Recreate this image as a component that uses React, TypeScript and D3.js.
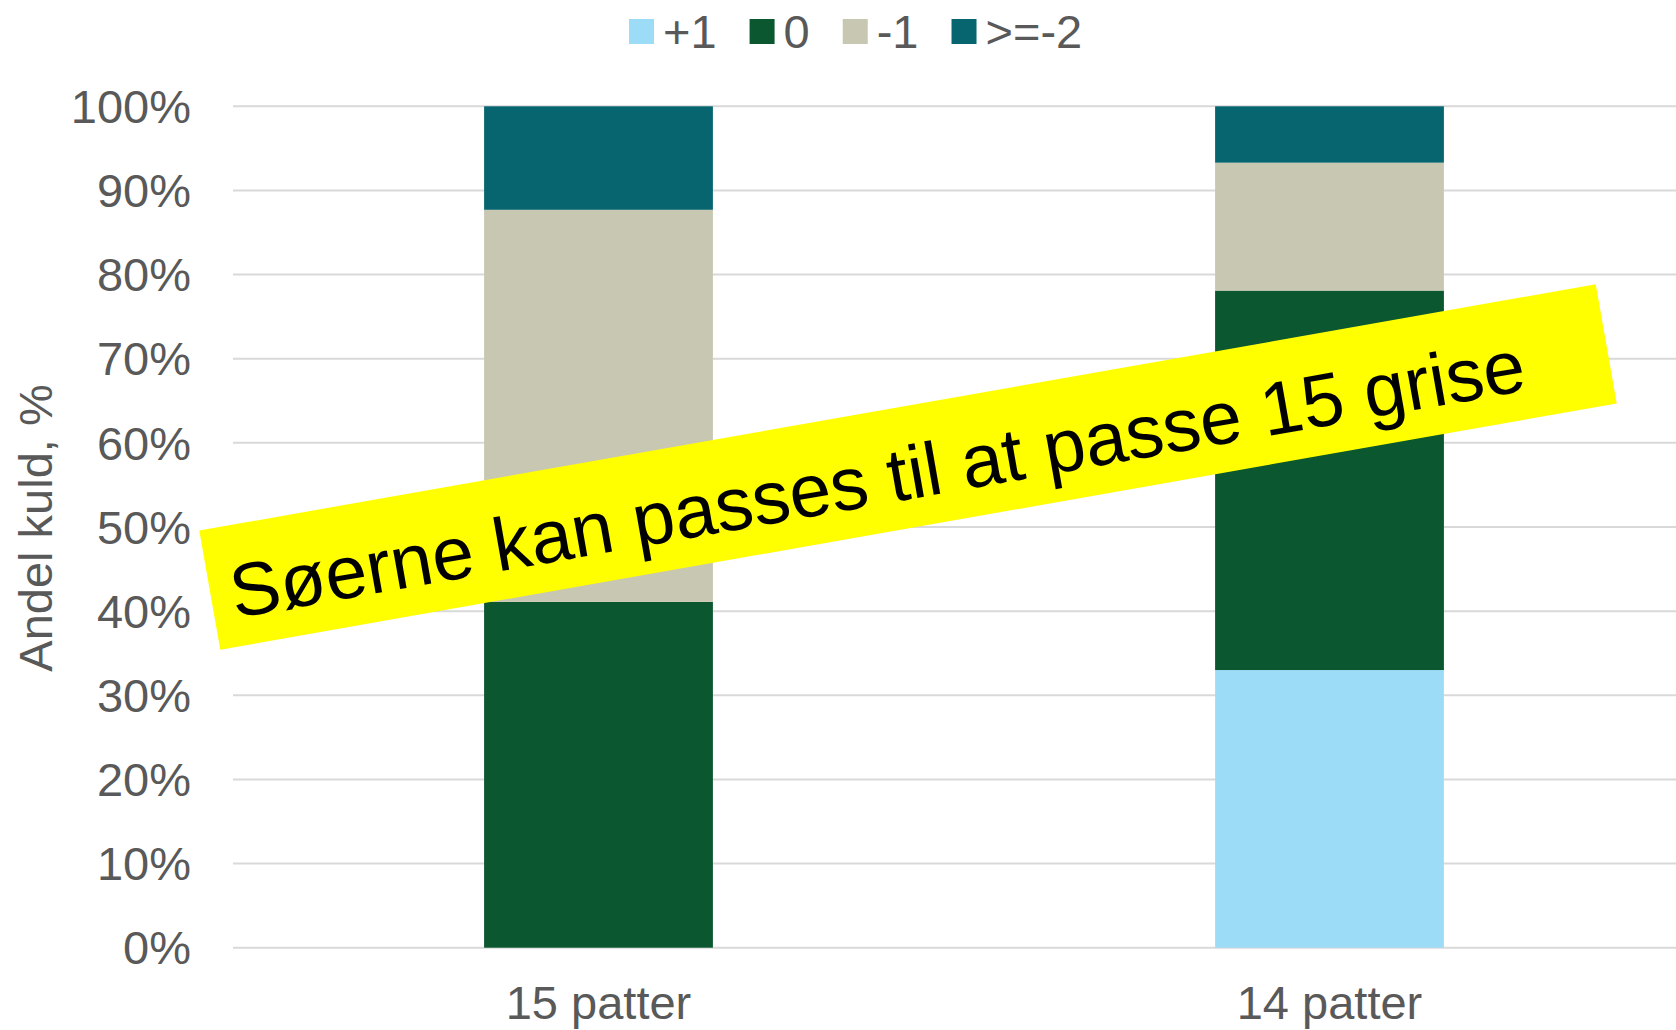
import React from "react";
import * as d3 from "d3";

const categories = ["15 patter", "14 patter"];
const seriesNames = ["+1", "0", "-1", ">=-2"];
const seriesColors = ["#9DDCF7", "#0B572F", "#C8C7B1", "#07656F"];
const plusOne = [0, 33.0];
const zero = [41.1, 45.1];
const minusOne = [46.6, 15.2];
const minusTwoOrMore = [12.3, 6.7];
const yTicks = [0, 10, 20, 30, 40, 50, 60, 70, 80, 90, 100];
const bannerText = "Søerne kan passes til at passe 15 grise";
const yTitle = "Andel kuld, %";

const W = 1676;
const H = 1030;
const FONT = "Liberation Sans, Arial, sans-serif";
const GREY = "#595959";

function measure(text: string, size: number): number {
  const c = document.createElement("canvas");
  const ctx = c.getContext("2d");
  if (!ctx) return text.length * size * 0.55;
  ctx.font = `${size}px "Liberation Sans", Arial, sans-serif`;
  return ctx.measureText(text).width;
}

export default function App() {
  const x = d3
    .scaleBand<string>()
    .domain(categories)
    .range([233, 1695])
    .paddingInner(0.687)
    .paddingOuter(0.3435);
  const y = d3.scaleLinear().domain([0, 100]).range([947.7, 106.3]);

  const rows = categories.map((c, i) => ({
    cat: c,
    "+1": plusOne[i],
    "0": zero[i],
    "-1": minusOne[i],
    ">=-2": minusTwoOrMore[i],
  }));
  const stack = d3.stack<any>().keys(seriesNames)(rows);

  // legend layout
  const legFont = 47;
  const sw = 25;
  let cursor = 629;
  const legendItems = seriesNames.map((name, i) => {
    const item = { name, color: seriesColors[i], x: cursor };
    cursor += sw + 9 + measure(name, legFont) + 33;
    return item;
  });

  const bannerCx = 908;
  const bannerCy = 467;
  const bannerW = 1418;
  const bannerH = 121;

  return (
    <svg
      width={W}
      height={H}
      style={{ position: "absolute", left: 0, top: 0, background: "#fff" }}
      fontFamily={FONT}
    >
      {/* gridlines */}
      {yTicks.map((t) => (
        <line
          key={"g" + t}
          x1={233}
          x2={W}
          y1={y(t)}
          y2={y(t)}
          stroke="#D9D9D9"
          strokeWidth={2}
        />
      ))}
      {/* y tick labels */}
      {yTicks.map((t) => (
        <text
          key={"t" + t}
          x={191}
          y={y(t)}
          dy="0.355em"
          textAnchor="end"
          fontSize={47}
          fill={GREY}
        >
          {d3.format("d")(t) + "%"}
        </text>
      ))}
      {/* bars */}
      {stack.map((s, si) => (
        <g key={s.key} fill={seriesColors[si]}>
          {s.map((d, i) =>
            d[1] - d[0] > 0 ? (
              <rect
                key={i}
                x={x(categories[i])}
                width={x.bandwidth()}
                y={y(d[1])}
                height={y(d[0]) - y(d[1])}
              />
            ) : null
          )}
        </g>
      ))}
      {/* x labels */}
      {categories.map((c) => (
        <text
          key={c}
          x={(x(c) as number) + x.bandwidth() / 2}
          y={1019}
          textAnchor="middle"
          fontSize={47}
          fill={GREY}
        >
          {c}
        </text>
      ))}
      {/* y title */}
      <text
        transform={`translate(52,528) rotate(-90)`}
        textAnchor="middle"
        fontSize={47}
        fill={GREY}
      >
        {yTitle}
      </text>
      {/* legend */}
      {legendItems.map((it) => (
        <g key={it.name}>
          <rect x={it.x} y={19} width={sw} height={sw} fill={it.color} />
          <text
            x={it.x + sw + 9}
            y={31.5}
            dy="0.355em"
            fontSize={legFont}
            fill={GREY}
          >
            {it.name}
          </text>
        </g>
      ))}
      {/* banner */}
      <g transform={`translate(${bannerCx},${bannerCy}) rotate(-10)`}>
        <rect
          x={-bannerW / 2}
          y={-bannerH / 2}
          width={bannerW}
          height={bannerH}
          fill="#FFFF00"
        />
        <text x={-bannerW / 2 + 20} y={32} fontSize={75} fill="#000">
          {bannerText}
        </text>
      </g>
    </svg>
  );
}
